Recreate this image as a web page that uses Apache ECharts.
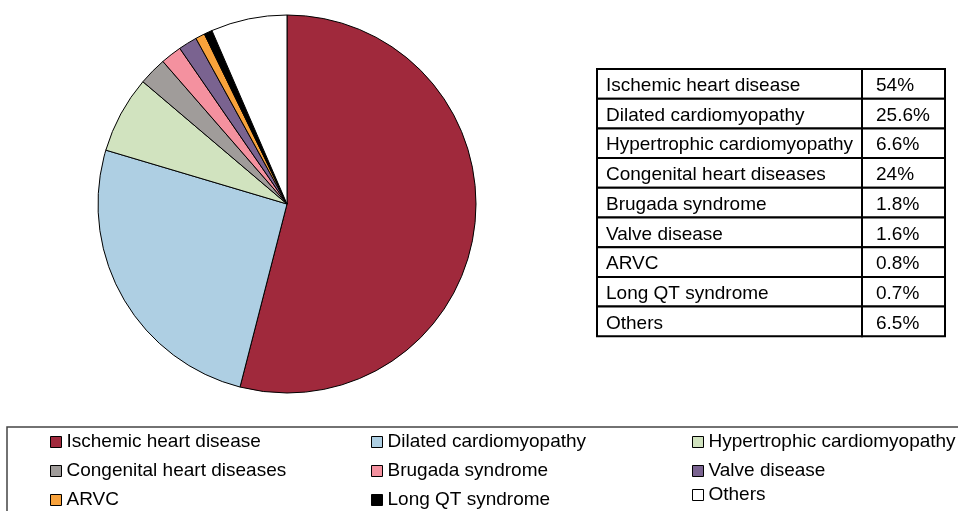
<!DOCTYPE html>
<html>
<head>
<meta charset="utf-8">
<script src="https://cdn.jsdelivr.net/npm/echarts@6/dist/echarts.min.js"></script>
<style>
  html, body { margin: 0; padding: 0; background: #fff; }
  #chart { width: 958px; height: 511px; }
</style>
</head>
<body>
<div id="chart"></div>
<script>
// data
var categories = ["Ischemic heart disease", "Dilated cardiomyopathy", "Hypertrophic cardiomyopathy",
  "Congenital heart diseases", "Brugada syndrome", "Valve disease", "ARVC", "Long QT syndrome", "Others"];
var shares = [54, 25.6, 6.6, 2.4, 1.8, 1.6, 0.8, 0.7, 6.5];
// table column as printed (the "24%" is how the source shows it)
var tableLabels = ["54%", "25.6%", "6.6%", "24%", "1.8%", "1.6%", "0.8%", "0.7%", "6.5%"];
var colors = ["#a0293c", "#aecfe3", "#d1e3bf", "#a09c9a", "#f4919f", "#7a6390", "#f8a23b", "#000000", "#ffffff"];

var font = "Liberation Sans, Arial, sans-serif";
var chart = echarts.init(document.getElementById("chart"));

// table drawn as graphic cells
var tbl = { x: 597, y: 69, w1: 265, w2: 83, rowH: 29.7 };
var cells = [];
categories.forEach(function (name, i) {
  var y = tbl.y + i * tbl.rowH;
  cells.push({ type: "rect", shape: { x: tbl.x, y: y, width: tbl.w1, height: tbl.rowH },
    style: { fill: "#fff", stroke: "#000", lineWidth: 2 } });
  cells.push({ type: "rect", shape: { x: tbl.x + tbl.w1, y: y, width: tbl.w2, height: tbl.rowH },
    style: { fill: "#fff", stroke: "#000", lineWidth: 2 } });
  cells.push({ type: "text", x: tbl.x + 9, y: y + tbl.rowH / 2 + 2,
    style: { text: name, font: "19px " + font, fill: "#000", textVerticalAlign: "middle" } });
  cells.push({ type: "text", x: tbl.x + tbl.w1 + 14, y: y + tbl.rowH / 2 + 2,
    style: { text: tableLabels[i], font: "19px " + font, fill: "#000", textVerticalAlign: "middle" } });
});

function legendCol(left, top, names, gap) {
  return {
    orient: "vertical", left: left, top: top, data: names,
    itemWidth: 11, itemHeight: 11, itemGap: gap, padding: 0,
    icon: "rect",
    itemStyle: { borderColor: "#000", borderWidth: 1 },
    textStyle: { fontFamily: font, fontSize: 19, color: "#000", lineHeight: 20 },
    selectedMode: false
  };
}

chart.setOption({
  animation: false,
  color: colors,
  graphic: [
    { type: "rect", shape: { x: 7, y: 427, width: 1000, height: 120 },
      style: { fill: "none", stroke: "#444", lineWidth: 1.5 } }
  ].concat(cells),
  legend: [
    legendCol(50, 432, [categories[0], categories[3], categories[6]], 9),
    legendCol(371, 432, [categories[1], categories[4], categories[7]], 9),
    legendCol(692, 432, [categories[2], categories[5]], 9),
    legendCol(692, 485, [categories[8]], 9)
  ],
  series: [{
    type: "pie",
    center: [287, 204],
    radius: 189,
    startAngle: 90,
    clockwise: true,
    label: { show: false },
    labelLine: { show: false },
    itemStyle: { borderColor: "#000", borderWidth: 1 },
    emphasis: { disabled: true },
    data: categories.map(function (c, i) { return { name: c, value: shares[i] }; })
  }]
});
</script>
</body>
</html>
